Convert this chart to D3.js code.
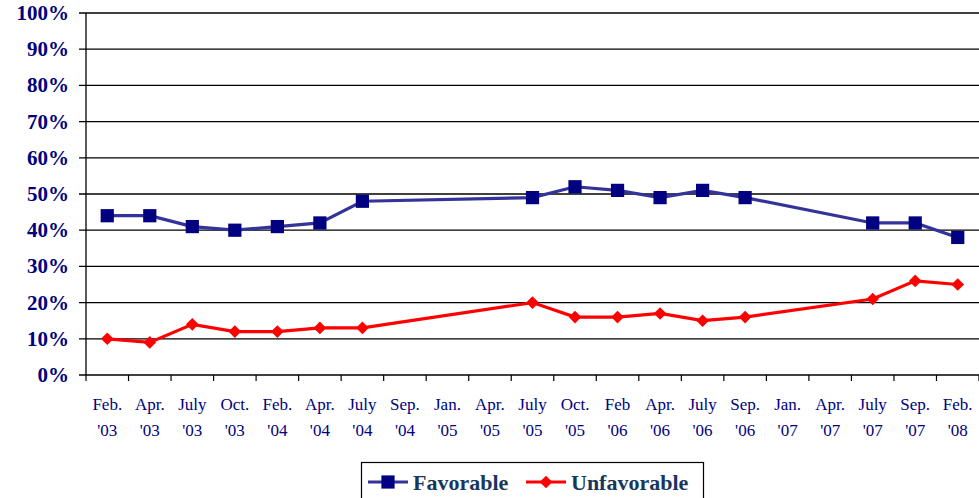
<!DOCTYPE html>
<html>
<head>
<meta charset="utf-8">
<script src="https://cdn.jsdelivr.net/npm/d3@7"></script>
<style>
  body { margin: 0; background: #fff; }
  svg { display: block; }
  #warm { position: absolute; left: 0; top: 0; opacity: 0; font-family: 'Liberation Serif'; pointer-events: none; }
</style>
</head>
<body>
<div id="warm">Feb '03 <b>100% Favorable</b></div>
<svg width="979" height="498" style="font-family:'Liberation Serif', serif"></svg>
<script>
var months = ["Feb.", "Apr.", "July", "Oct.", "Feb.", "Apr.", "July", "Sep.", "Jan.", "Apr.", "July",
  "Oct.", "Feb", "Apr.", "July", "Sep.", "Jan.", "Apr.", "July", "Sep.", "Feb."];
var years = ["'03", "'03", "'03", "'03", "'04", "'04", "'04", "'04", "'05", "'05", "'05",
  "'05", "'06", "'06", "'06", "'06", "'07", "'07", "'07", "'07", "'08"];
var favorable = [44, 44, 41, 40, 41, 42, 48, null, null, null, 49, 52, 51, 49, 51, 49, null, null, 42, 42, 38];
var unfavorable = [10, 9, 14, 12, 12, 13, 13, null, null, null, 20, 16, 16, 17, 15, 16, null, null, 21, 26, 25];
var yTicks = [0, 10, 20, 30, 40, 50, 60, 70, 80, 90, 100];

(function () {
  'use strict';
  var left = 86, right = 979, top = 13, bottom = 375;
  var svg = d3.select('svg');
  var idx = d3.range(months.length);

  var x = d3.scaleBand().domain(idx).range([left, right]);
  var y = d3.scaleLinear().domain([0, 100]).range([bottom, top]);

  // grid lines
  svg.append('g').selectAll('line').data(yTicks).enter().append('line')
    .attr('x1', left - 7).attr('x2', right)
    .attr('y1', function (d) { return y(d); })
    .attr('y2', function (d) { return y(d); })
    .attr('stroke', '#000').attr('stroke-width', 1.3);

  // y labels
  svg.append('g').selectAll('text').data(yTicks).enter().append('text')
    .attr('x', 69).attr('y', function (d) { return y(d) + 7; })
    .attr('text-anchor', 'end')
    .attr('font-weight', 'bold').attr('font-size', 21)
    .attr('fill', '#000080')
    .text(function (d) { return d + '%'; });

  // left axis
  svg.append('line').attr('x1', left).attr('x2', left)
    .attr('y1', top).attr('y2', bottom)
    .attr('stroke', '#000').attr('stroke-width', 1.3);

  // x ticks
  var edges = idx.map(function (i) { return x(i); }).concat([right]);
  svg.append('g').selectAll('line').data(edges).enter().append('line')
    .attr('x1', function (d) { return d; }).attr('x2', function (d) { return d; })
    .attr('y1', bottom).attr('y2', bottom + 6)
    .attr('stroke', '#000').attr('stroke-width', 1.2);

  function cx(i) { return x(i) + x.bandwidth() / 2; }

  // x labels
  var xl = svg.append('g').selectAll('text').data(idx).enter().append('text')
    .attr('text-anchor', 'middle')
    .attr('font-size', 17).attr('fill', '#000080');
  xl.append('tspan').attr('x', cx).attr('y', 410)
    .text(function (i) { return months[i]; });
  xl.append('tspan').attr('x', cx).attr('y', 436)
    .text(function (i) { return years[i]; });

  function series(vals, color, mcolor, diamond) {
    var pts = idx.filter(function (i) { return vals[i] != null; });
    var line = d3.line().x(cx).y(function (i) { return y(vals[i]); });
    svg.append('path').datum(pts).attr('d', line)
      .attr('fill', 'none').attr('stroke', color).attr('stroke-width', 3.2);
    svg.append('g').selectAll('path').data(pts).enter().append('path')
      .attr('d', d3.symbol().type(d3.symbolSquare).size(diamond ? 80 : 175))
      .attr('transform', function (i) {
        return 'translate(' + cx(i) + ',' + y(vals[i]) + ')' + (diamond ? ' rotate(45)' : '');
      })
      .attr('fill', mcolor);
  }

  series(favorable, '#333399', '#000080', false);
  series(unfavorable, '#ff0000', '#ff0000', true);

  // legend
  var lg = svg.append('g');
  lg.append('rect').attr('x', 361.5).attr('y', 462.5).attr('width', 342).attr('height', 40)
    .attr('fill', '#fff').attr('stroke', '#000').attr('stroke-width', 1.2);
  var items = [
    { name: 'Favorable', color: '#333399', mcolor: '#000080', x: 368, diamond: false },
    { name: 'Unfavorable', color: '#ff0000', mcolor: '#ff0000', x: 526, diamond: true }
  ];
  items.forEach(function (it) {
    lg.append('line').attr('x1', it.x).attr('x2', it.x + 40).attr('y1', 482).attr('y2', 482)
      .attr('stroke', it.color).attr('stroke-width', 3.2);
    lg.append('path')
      .attr('d', d3.symbol().type(d3.symbolSquare).size(it.diamond ? 80 : 175))
      .attr('transform', 'translate(' + (it.x + 20) + ',482)' + (it.diamond ? ' rotate(45)' : ''))
      .attr('fill', it.mcolor);
    lg.append('text').attr('x', it.x + 45).attr('y', 490)
      .attr('font-weight', 'bold').attr('font-size', 22)
      .attr('fill', '#17375e').text(it.name);
  });
})();
</script>
</body>
</html>
